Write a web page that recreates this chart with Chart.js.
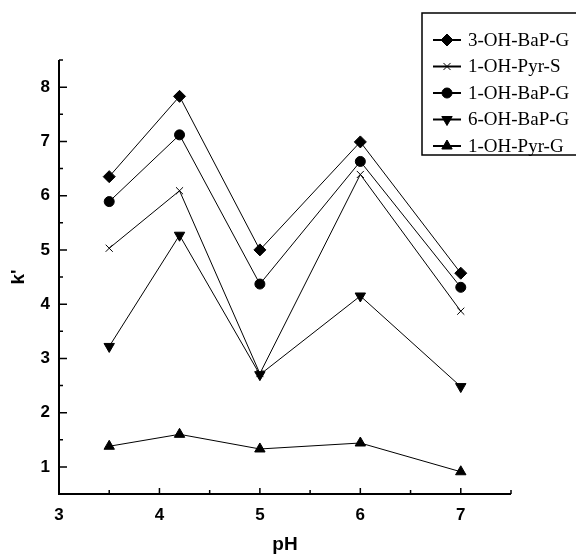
<!DOCTYPE html>
<html>
<head>
<meta charset="utf-8">
<script src="https://cdn.jsdelivr.net/npm/chart.js"></script>
<style>
  html, body { margin: 0; padding: 0; background: #fff; }
  #wrap { width: 576px; height: 557px; position: relative; }
</style>
</head>
<body>
<div id="wrap"><canvas id="ch" width="576" height="557"></canvas></div>
<script>
// pH values and k'
const ph = [3.5, 4.2, 5, 6, 7];
const ohBaP3G = [6.35, 7.83, 5.0, 6.99, 4.57];
const ohPyr1S = [5.03, 6.09, 2.72, 6.39, 3.87];
const ohBaP1G = [5.89, 7.12, 4.37, 6.63, 4.31];
const ohBaP6G = [3.22, 5.27, 2.70, 4.15, 2.48];
const ohPyr1G = [1.38, 1.60, 1.33, 1.44, 0.91];

const seriesNames = ['3-OH-BaP-G', '1-OH-Pyr-S', '1-OH-BaP-G', '6-OH-BaP-G', '1-OH-Pyr-G'];
const xTicks = [3, 4, 5, 6, 7];
const xMinor = [3.5, 4.5, 5.5, 6.5, 7.5];
const yTicks = [1, 2, 3, 4, 5, 6, 7, 8];
const yMinor = [1.5, 2.5, 3.5, 4.5, 5.5, 6.5, 7.5, 8.5];

const styles = [
  { pointStyle: 'rectRot', radius: 6, rotation: 0 },
  { pointStyle: 'crossRot', radius: 5, rotation: 0 },
  { pointStyle: 'circle', radius: 5, rotation: 0 },
  { pointStyle: 'triangle', radius: 6, rotation: 180 },
  { pointStyle: 'triangle', radius: 6, rotation: 0 }
];

const makeSet = (i, vals) => ({
  label: seriesNames[i],
  data: ph.map((x, j) => ({ x: x, y: vals[j] })),
  borderColor: '#000',
  borderWidth: 1,
  backgroundColor: '#000',
  pointBackgroundColor: '#000',
  pointBorderColor: '#000',
  pointBorderWidth: 1,
  pointStyle: styles[i].pointStyle,
  pointRadius: styles[i].radius,
  pointRotation: styles[i].rotation,
  tension: 0,
  fill: false
});

// inward tick marks on both axes
const innerTicks = {
  id: 'innerTicks',
  afterDraw(chart) {
    const ctx = chart.ctx;
    const xs = chart.scales.x, ys = chart.scales.y;
    const x0 = xs.left, y0 = ys.bottom;
    ctx.save();
    ctx.strokeStyle = '#000';
    ctx.lineWidth = 2;
    ctx.beginPath();
    ctx.moveTo(x0, ys.top);
    ctx.lineTo(x0, y0);
    ctx.lineTo(xs.right, y0);
    ctx.stroke();
    ctx.lineWidth = 1.5;
    ctx.beginPath();
    yTicks.forEach(v => { const p = ys.getPixelForValue(v); ctx.moveTo(x0, p); ctx.lineTo(x0 + 8, p); });
    yMinor.forEach(v => { const p = ys.getPixelForValue(v); ctx.moveTo(x0, p); ctx.lineTo(x0 + 4, p); });
    xTicks.forEach(v => { const p = xs.getPixelForValue(v); ctx.moveTo(p, y0); ctx.lineTo(p, y0 - 6); });
    xMinor.forEach(v => { const p = xs.getPixelForValue(v); ctx.moveTo(p, y0); ctx.lineTo(p, y0 - 4); });
    ctx.stroke();
    ctx.restore();
  }
};

// boxed legend at the top right
const boxLegend = {
  id: 'boxLegend',
  afterDraw(chart) {
    const ctx = chart.ctx;
    ctx.save();
    ctx.fillStyle = '#fff';
    ctx.fillRect(422, 13, 160, 142);
    ctx.strokeStyle = '#000';
    ctx.lineWidth = 1.5;
    ctx.strokeRect(422, 13, 160, 142);
    ctx.font = '19px "Liberation Serif", "Times New Roman", serif';
    ctx.textBaseline = 'middle';
    chart.data.datasets.forEach((ds, i) => {
      const y = 40 + i * 26.5;
      ctx.strokeStyle = '#000';
      ctx.fillStyle = '#000';
      ctx.lineWidth = 2;
      ctx.beginPath();
      ctx.moveTo(433, y);
      ctx.lineTo(461, y);
      ctx.stroke();
      ctx.lineWidth = 1;
      Chart.helpers.drawPoint(ctx, {
        pointStyle: ds.pointStyle,
        radius: ds.pointRadius,
        rotation: ds.pointRotation,
        borderWidth: 1
      }, 447, y);
      ctx.fillStyle = '#000';
      ctx.fillText(ds.label, 468, y + 1);
    });
    ctx.restore();
  }
};

const chart = new Chart('ch', {
  type: 'line',
  data: {
    datasets: [
      makeSet(0, ohBaP3G),
      makeSet(1, ohPyr1S),
      makeSet(2, ohBaP1G),
      makeSet(3, ohBaP6G),
      makeSet(4, ohPyr1G)
    ]
  },
  options: {
    responsive: false,
    animation: false,
    layout: { padding: { top: 60, right: 65, left: 0, bottom: 0 } },
    plugins: { legend: { display: false }, tooltip: { enabled: false } },
    scales: {
      x: {
        type: 'linear',
        min: 3,
        max: 7.5,
        afterBuildTicks: s => { s.ticks = xTicks.map(v => ({ value: v })); },
        afterFit: s => { s.height = 63; },
        grid: { display: false, drawTicks: false },
        border: { display: false },
        ticks: {
          color: '#000',
          padding: 11,
          font: { family: '"Liberation Sans", Arial, sans-serif', size: 17, weight: 'bold' }
        },
        title: {
          display: true,
          text: 'pH',
          color: '#000',
          padding: { top: 0, bottom: 1 },
          font: { family: '"Liberation Sans", Arial, sans-serif', size: 19, weight: 'bold' }
        }
      },
      y: {
        type: 'linear',
        min: 0.5,
        max: 8.5,
        afterBuildTicks: s => { s.ticks = yTicks.map(v => ({ value: v })); },
        afterFit: s => { s.width = 59; },
        grid: { display: false, drawTicks: false },
        border: { display: false },
        ticks: {
          color: '#000',
          padding: 9,
          font: { family: '"Liberation Sans", Arial, sans-serif', size: 17, weight: 'bold' }
        },
        title: {
          display: true,
          text: "k'",
          color: '#000',
          padding: { top: 7, bottom: 0 },
          font: { family: '"Liberation Sans", Arial, sans-serif', size: 19, weight: 'bold' }
        }
      }
    }
  },
  plugins: [innerTicks, boxLegend]
});
</script>
</body>
</html>
